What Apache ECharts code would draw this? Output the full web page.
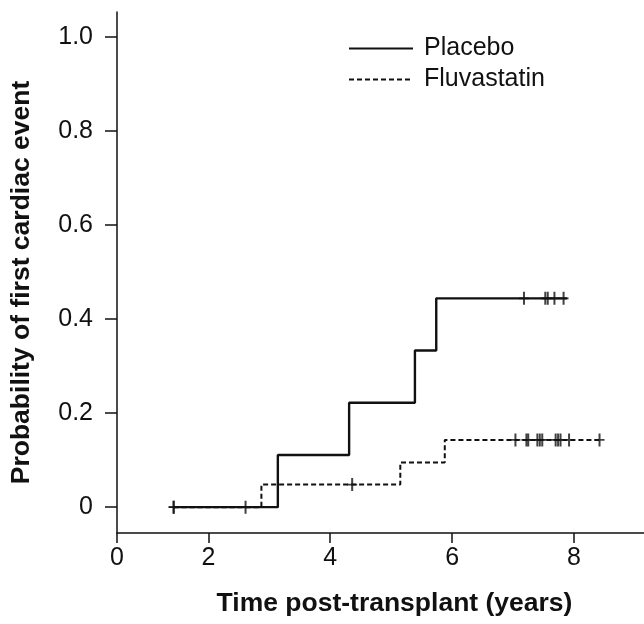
<!DOCTYPE html>
<html>
<head>
<meta charset="utf-8">
<script src="https://cdn.jsdelivr.net/npm/echarts@6/dist/echarts.min.js"></script>
<style>
  html, body { margin: 0; padding: 0; background: #fff; }
  #chart { width: 644px; height: 624px; }
</style>
</head>
<body>
<div id="chart"></div>
<script>
// step points [years, probability] for each group
const placeboSteps = [[1.43, 0], [3.14, 0.111], [4.31, 0.222], [5.39, 0.333], [5.74, 0.444], [7.89, 0.444]]
const fluvaSteps = [[1.43, 0], [2.87, 0.048], [5.15, 0.095], [5.88, 0.143], [8.45, 0.143]]

// censored observations (the little + marks)
const placeboCensored = [[1.43, 0], [7.18, 0.444], [7.53, 0.444], [7.57, 0.444], [7.68, 0.444], [7.83, 0.444]]
const fluvaCensored = [[1.43, 0], [2.61, 0], [4.36, 0.048], [7.04, 0.143], [7.22, 0.143], [7.25, 0.143],
  [7.40, 0.143], [7.44, 0.143], [7.48, 0.143], [7.70, 0.143], [7.74, 0.143], [7.78, 0.143],
  [7.92, 0.143], [8.42, 0.143]]

// tick labels (the x axis is broken: the first tick reads 0)
const xTickValues = [0.5, 2, 4, 6, 8]
const xTickLabels = ['0', '2', '4', '6', '8']
const yTickValues = [0, 0.2, 0.4, 0.6, 0.8, 1.0]
const yTickLabels = ['0', '0.2', '0.4', '0.6', '0.8', '1.0']

const plus = 'path://M-0.2,-1 H0.2 V-0.14 H1 V0.14 H0.2 V1 H-0.2 V0.14 H-1 V-0.14 H-0.2 Z'
const font = 'Liberation Sans'

const chart = echarts.init(document.getElementById('chart'))

const option = {
  backgroundColor: '#fff',
  animation: false,
  grid: { left: 117, top: 12, right: 0, bottom: 91, containLabel: false, outerBoundsMode: 'none' },
  legend: {
    orient: 'vertical',
    left: 343,
    top: 31,
    itemWidth: 64,
    itemHeight: 14,
    itemGap: 6,
    data: ['Placebo', 'Fluvastatin'],
    itemStyle: { opacity: 0 },
    textStyle: { fontFamily: font, fontSize: 25, color: '#111', padding: [0, 0, 0, 6] },
  },
  xAxis: {
    type: 'value',
    min: 0.5,
    max: 9.15,
    name: 'Time post-transplant (years)',
    nameLocation: 'middle',
    nameGap: 57,
    nameTextStyle: { fontFamily: font, fontSize: 26.5, fontWeight: 'bold', color: '#111', padding: [0, 0, 0, 28] },
    axisLine: { onZero: false, lineStyle: { color: '#111', width: 1.5 } },
    splitLine: { show: false },
    axisTick: { length: 10, lineStyle: { color: '#111', width: 1.5 }, customValues: xTickValues },
    axisLabel: {
      customValues: xTickValues,
      margin: 13,
      fontFamily: font,
      fontSize: 25,
      color: '#111',
      formatter: (v) => xTickLabels[xTickValues.indexOf(v)],
    },
  },
  yAxis: {
    type: 'value',
    min: -0.055,
    max: 1.053,
    name: 'Probability of first cardiac event',
    nameLocation: 'middle',
    nameGap: 82,
    nameTextStyle: { fontFamily: font, fontSize: 26.5, fontWeight: 'bold', color: '#111', padding: [0, 20, 0, 0] },
    axisLine: { show: true, onZero: false, lineStyle: { color: '#111', width: 1.5 } },
    splitLine: { show: false },
    axisTick: { show: true, length: 12, lineStyle: { color: '#111', width: 1.5 }, customValues: yTickValues },
    axisLabel: {
      customValues: yTickValues,
      margin: 24,
      fontFamily: font,
      fontSize: 25,
      color: '#111',
      formatter: (v) => yTickLabels[yTickValues.indexOf(v)],
    },
  },
  series: [
    {
      name: 'Placebo',
      type: 'line',
      step: 'end',
      symbol: 'none',
      data: placeboSteps,
      lineStyle: { color: '#111', width: 2.4, type: 'solid' },
      itemStyle: { color: '#111' },
    },
    {
      name: 'Fluvastatin',
      type: 'line',
      step: 'end',
      symbol: 'none',
      data: fluvaSteps,
      lineStyle: { color: '#111', width: 2, type: [5, 3] },
      itemStyle: { color: '#111' },
    },
    {
      name: 'Placebo censored',
      type: 'scatter',
      symbol: plus,
      symbolSize: [10, 13],
      data: placeboCensored,
      itemStyle: { color: '#111' },
    },
    {
      name: 'Fluvastatin censored',
      type: 'scatter',
      symbol: plus,
      symbolSize: [10, 13],
      data: fluvaCensored,
      itemStyle: { color: '#111' },
    },
  ],
}

chart.setOption(option)
</script>
</body>
</html>
